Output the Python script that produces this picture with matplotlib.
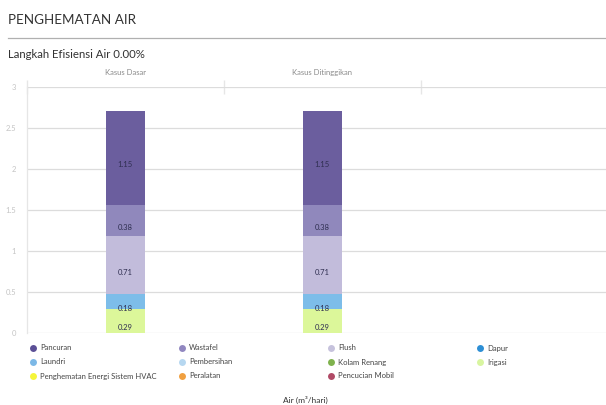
import matplotlib
matplotlib.use("Agg")
import matplotlib.pyplot as plt
from matplotlib.lines import Line2D
import numpy as np

plt.rcParams['font.family'] = ['Lato', 'DejaVu Sans']

categories = ["Kasus Dasar", "Kasus Ditinggikan"]
stack_names = ["Irigasi", "Laundri", "Flush", "Wastafel", "Pancuran"]
stack_values = {
    "Irigasi": [0.29, 0.29],
    "Laundri": [0.18, 0.18],
    "Flush": [0.71, 0.71],
    "Wastafel": [0.38, 0.38],
    "Pancuran": [1.15, 1.15],
}
bar_colors = {
    "Irigasi": "#dcf79a",
    "Laundri": "#7dbde9",
    "Flush": "#c2bcdb",
    "Wastafel": "#9088bc",
    "Pancuran": "#6b5e9e",
}
legend_names = ["Pancuran", "Wastafel", "Flush", "Dapur",
                "Laundri", "Pembersihan", "Kolam Renang", "Irigasi",
                "Penghematan Energi Sistem HVAC", "Peralatan", "Pencucian Mobil"]
legend_colors = ["#5b4f96", "#9187c0", "#c6c2dc", "#2d8fd5",
                 "#7cb8e6", "#b6d7f0", "#7fb24d", "#d8f5a0",
                 "#f5f53a", "#f0a040", "#b04a66"]
y_ticks = [0, 0.5, 1, 1.5, 2, 2.5, 3]
y_tick_labels = ["0", "0.5", "1", "1.5", "2", "2.5", "3"]

W, H = 606, 405
fig = plt.figure(figsize=(W / 100, H / 100), dpi=100)

def fx(px):
    return px / W

def fy(py):
    return 1 - py / H

ax = fig.add_axes([fx(27), fy(333), fx(606) - fx(27), fy(87) - fy(333)])

x = np.arange(len(categories))
bottom = np.zeros(len(categories))
for name in stack_names:
    vals = np.array(stack_values[name])
    ax.bar(x, vals, width=0.2, bottom=bottom, color=bar_colors[name], zorder=3)
    for xi, b, v in zip(x, bottom, vals):
        ax.annotate(f"{v:.2f}", (xi, b + v / 2), xytext=(0, -4.8), textcoords="offset points",
                    ha="center", va="center", fontsize=5.5, color="#2e2e50", zorder=4)
    bottom += vals

ax.set_xlim(-0.5, 2.44)
ax.set_ylim(0, 3)
ax.set_yticks(y_ticks)
ax.set_yticklabels(y_tick_labels)
ax.tick_params(axis="y", length=0, labelsize=5.5, labelcolor="#c4c4c4", pad=8)
ax.grid(axis="y", color="#dcdcdc", lw=0.9, zorder=0)
ax.set_axisbelow(True)

ax.xaxis.set_ticks_position("top")
ax.set_xticks(x)
ax.set_xticklabels(categories)
ax.set_xticks([-0.5, 0.5, 1.5], minor=True)
ax.tick_params(axis="x", which="major", length=0, labelsize=5.5, labelcolor="#8a8a8a", pad=8)
ax.tick_params(axis="x", which="minor", length=10, direction="inout", color="#e6e6e6", width=1)

for s in ["top", "right", "bottom"]:
    ax.spines[s].set_visible(False)
ax.spines["left"].set_color("#e6e6e6")
ax.spines["left"].set_linewidth(0.9)

# Title block
fig.text(fx(8), fy(20), "PENGHEMATAN AIR", fontsize=9.7, color="#333333", va="center", ha="left")
fig.add_artist(Line2D([fx(8), fx(606)], [fy(38), fy(38)], color="#b0b0b0", lw=0.9))
fig.text(fx(8), fy(55), "Langkah Efisiensi Air 0.00%", fontsize=8.2, color="#333333", va="center", ha="left")

# Legend
col_x = [33, 182, 331, 480]
row_y = [348, 362, 376]
for i, (name, col) in enumerate(zip(legend_names, legend_colors)):
    r, c = divmod(i, 4)
    fig.add_artist(Line2D([fx(col_x[c])], [fy(row_y[r])], marker="o", markersize=5,
                          color=col, markeredgewidth=0, linestyle="none"))
    fig.text(fx(col_x[c] + 7), fy(row_y[r]), name, fontsize=5.5, color="#444444",
             va="center", ha="left")

fig.text(fx(305), fy(400), "Air (m\u00b3/hari)", fontsize=6, color="#333333", va="center", ha="center")

fig.savefig("out.png", dpi=100, facecolor="white")
